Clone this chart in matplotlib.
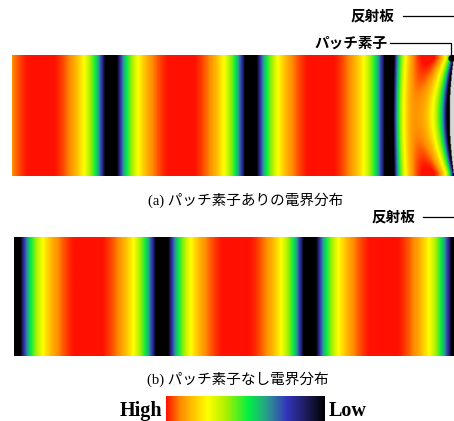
import matplotlib
matplotlib.use("Agg")
import matplotlib.pyplot as plt
import numpy as np
from matplotlib.colors import LinearSegmentedColormap, LogNorm
from matplotlib.cm import ScalarMappable

# node (field minimum) positions, in pixels along the guide
nodes_a = [111, 251, 391]      # with patch element
nodes_b = [14, 162, 310]       # without patch element

# near field in front of the patch (a): values at the panel edge / at mid height
peak_edge, peak_mid = 429, 416     # x of the last maximum
zero_edge, zero_mid = 456, 451     # x where the field drops to zero
amp_edge, amp_mid = 1.0, 0.78      # height of the last maximum
patch_top, patch_bot = 58, 173     # patch extent (y)
patch_width = 4                    # gray patch strip at mid height (px)

# colour scale, low -> high
cb_pos = [0.0, 0.12, 0.24, 0.37, 0.48, 0.62, 0.74, 0.91, 1.0]
cb_col = ["#000000", "#1c1c5c", "#3434bc", "#2aa08a", "#00ee44",
          "#a8f000", "#ffff00", "#ff8c00", "#ff1000"]

caption_a = "(a) パッチ素子ありの電界分布"
caption_b = "(b) パッチ素子なし電界分布"

cmap = LinearSegmentedColormap.from_list("field", list(zip(cb_pos, cb_col)))
cmap.set_bad("#d8d8d8")
norm = LogNorm(vmin=0.135, vmax=0.96, clip=True)

W, H = 454, 421
fig = plt.figure(figsize=(W / 100, H / 100), dpi=100)
ax = fig.add_axes([0, 0, 1, 1])

jp = ["Liberation Serif", "Noto Sans CJK JP"]
jpb = ["Noto Sans CJK JP"]

# ---- panel (b): plain standing wave
xa0, xa1, ya0, ya1 = 14, 454, 237, 356
x = np.linspace(xa0, xa1, 880)
y = np.linspace(ya0, ya1, 120)
X, Y = np.meshgrid(x, y)
per_b = np.mean(np.diff(nodes_b))
vb = np.abs(np.sin(np.pi * (X - nodes_b[0]) / per_b))
vb = np.clip(vb, 1e-3, 1)
ax.imshow(vb, extent=(xa0, xa1, ya1, ya0), cmap=cmap, norm=norm,
          aspect="auto", interpolation="bilinear")

# ---- panel (a): standing wave + near field in front of the patch
xb0, xb1, yb0, yb1 = 12, 454, 55, 176
x = np.linspace(xb0, xb1, 884)
y = np.linspace(yb0, yb1, 121)
X, Y = np.meshgrid(x, y)
per_a = np.mean(np.diff(nodes_a))
va = np.abs(np.sin(np.pi * (X - nodes_a[0]) / per_a))

yc = 0.5 * (patch_top + patch_bot)
q = np.clip(1 - ((Y - yc) / (0.5 * (patch_bot - patch_top))) ** 2, 0, 1)
xp = peak_edge + (peak_mid - peak_edge) * q
xz = zero_edge + (zero_mid - zero_edge) * q
amp = amp_edge + (amp_mid - amp_edge) * q
last = nodes_a[-1]
rise = np.sin(0.5 * np.pi * np.clip((X - last) / (xp - last), 0, 1))
fall = np.cos(0.5 * np.pi * np.clip((X - xp) / (xz - xp), 0, 1))
near = amp * np.where(X < xp, rise, fall)
va = np.where(X > last, near, va)
va = np.clip(va, 1e-3, 1)
va = np.where((q > 0) & (X > xb1 - patch_width * q), np.nan, va)
ax.imshow(va, extent=(xb0, xb1, yb1, yb0), cmap=cmap, norm=norm,
          aspect="auto", interpolation="bilinear")

# ---- labels
ax.text(394, 16, "反射板", family=jpb, weight="bold", fontsize=10.5,
        ha="right", va="center")
ax.plot([403, 454], [16, 16], color="black", lw=0.9)
ax.text(388, 43, "パッチ素子", family=jpb, weight="bold", fontsize=10.5,
        ha="right", va="center")
ax.plot([390, 451, 451], [43, 43, 57], color="black", lw=0.9)
ax.plot([451], [58], "o", color="black", ms=3.5)

ax.text(415, 217, "反射板", family=jpb, weight="bold", fontsize=10.5,
        ha="right", va="center")
ax.plot([423, 454], [217, 217], color="black", lw=0.9)

ax.text(246, 200, caption_a, family=jp, fontsize=10.5, ha="center", va="center")
ax.text(238, 379, caption_b, family=jp, fontsize=10.5, ha="center", va="center")

ax.set_xlim(0, W)
ax.set_ylim(H, 0)
ax.axis("off")

# ---- colour bar
cax = fig.add_axes([166 / W, 0, (325 - 166) / W, 25 / H])
cb = fig.colorbar(ScalarMappable(norm=norm, cmap=cmap), cax=cax,
                  orientation="horizontal")
cb.outline.set_visible(False)
cb.set_ticks([])
cb.minorticks_off()
cax.invert_xaxis()
fig.text(162 / W, 10 / H, "High", family="Liberation Serif", weight="bold",
         fontsize=14.5, ha="right", va="center")
fig.text(329 / W, 10 / H, "Low", family="Liberation Serif", weight="bold",
         fontsize=14.5, ha="left", va="center")

fig.savefig("out.png", dpi=100)
